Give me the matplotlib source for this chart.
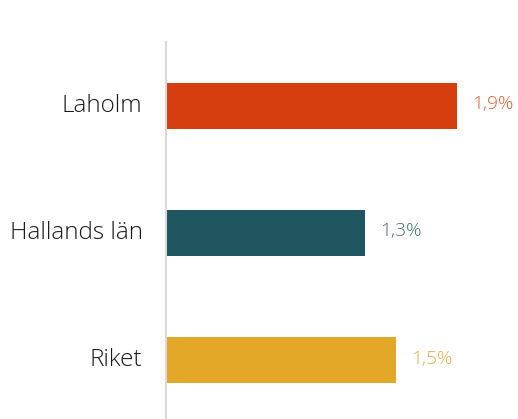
import matplotlib.pyplot as plt

# data
regions = ['Laholm', 'Hallands län', 'Riket']
values = [1.9, 1.3, 1.5]
value_labels = ['1,9%', '1,3%', '1,5%']

bar_colors = ['#D63E10', '#1F555E', '#E3A828']
text_colors = ['#E05A2C', '#3F6E75', '#E6AA3C']

plt.rcParams['font.family'] = ['Open Sans', 'DejaVu Sans']

fig = plt.figure(figsize=(5.18, 4.19), dpi=100)
# axes placed so that the axis line sits at x=165px, top at y=42px
ax = fig.add_axes([165.5 / 518, (419 - 423.5) / 419, (518 - 165.5) / 518, 381.5 / 419])

pos = range(len(regions))
ax.barh(pos, values, height=0.362, color=bar_colors)

for i, (v, lab) in enumerate(zip(values, value_labels)):
    ax.annotate(lab, (v, i), xytext=(11, 1), textcoords='offset points',
                ha='left', va='center', fontsize=13.8, fontweight='light',
                color=text_colors[i])

ax.set_yticks(list(pos))
ax.set_yticklabels(regions, fontsize=17.5, fontweight='light', color='#1A1A1A',
                   va='center')
for t in ax.get_yticklabels():
    t.set_y(t.get_position()[1])
ax.tick_params(axis='y', length=0, pad=16.5)
ax.set_ylim(2.5, -0.5)
ax.set_xlim(0, (518 - 165.5) / 153.5)
ax.set_xticks([])

for side in ['top', 'right', 'bottom']:
    ax.spines[side].set_visible(False)
ax.spines['left'].set_color('#D9D9D9')
ax.spines['left'].set_linewidth(1.5)

fig.savefig('out.png', dpi=100)
